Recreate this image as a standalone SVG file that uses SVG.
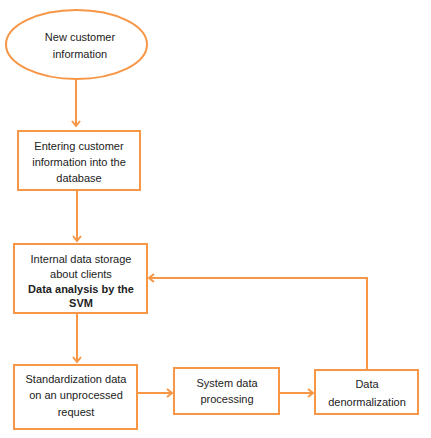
<svg xmlns="http://www.w3.org/2000/svg" width="431" height="438" viewBox="0 0 431 438">
<style>
.n{fill:#fff;stroke:#F79646;stroke-width:2}
.t{font-family:"Liberation Sans",Arial,sans-serif;font-size:11px;fill:#222;text-anchor:middle}
.b{font-weight:bold}
.c{fill:none;stroke:#F79646;stroke-width:2}
</style>
<defs>
<marker id="ah" markerWidth="10" markerHeight="10" refX="7" refY="5" orient="auto" markerUnits="userSpaceOnUse">
<path d="M2,1 L7,5 L2,9" fill="none" stroke="#F79646" stroke-width="2"/>
</marker>
</defs>
<rect width="431" height="438" fill="#fff"/>
<g id="connectors">
<path class="c" d="M76,79 V126" marker-end="url(#ah)"/>
<path class="c" d="M77,190 V241" marker-end="url(#ah)"/>
<path class="c" d="M77,313 V362" marker-end="url(#ah)"/>
<path class="c" d="M137,393 H172" marker-end="url(#ah)"/>
<path class="c" d="M279,393 H313" marker-end="url(#ah)"/>
<path class="c" d="M367,370 V278 H149" marker-end="url(#ah)"/>
</g>
<g id="n1">
<ellipse class="n" cx="76.5" cy="44.5" rx="70.5" ry="34.5"/>
<text class="t" x="80" y="41">New customer</text>
<text class="t" x="80" y="58">information</text>
</g>
<g id="n2">
<rect class="n" x="18" y="131" width="122" height="59"/>
<text class="t" x="79" y="150">Entering customer</text>
<text class="t" x="79" y="166">information into the</text>
<text class="t" x="79" y="182">database</text>
</g>
<g id="n3">
<rect class="n" x="14" y="244" width="133" height="69"/>
<text class="t" x="81" y="263">Internal data storage</text>
<text class="t" x="81" y="278">about clients</text>
<text class="t b" x="81" y="293">Data analysis  by the</text>
<text class="t b" x="81" y="307">SVM</text>
</g>
<g id="n4">
<rect class="n" x="14" y="365" width="123" height="64"/>
<text class="t" x="76" y="383">Standardization data</text>
<text class="t" x="76" y="399">on an unprocessed</text>
<text class="t" x="76" y="416">request</text>
</g>
<g id="n5">
<rect class="n" x="174" y="368" width="105" height="46"/>
<text class="t" x="227" y="387">System data</text>
<text class="t" x="227" y="403">processing</text>
</g>
<g id="n6">
<rect class="n" x="315" y="370" width="103" height="44"/>
<text class="t" x="367" y="388">Data</text>
<text class="t" x="367" y="406">denormalization</text>
</g>
</svg>
